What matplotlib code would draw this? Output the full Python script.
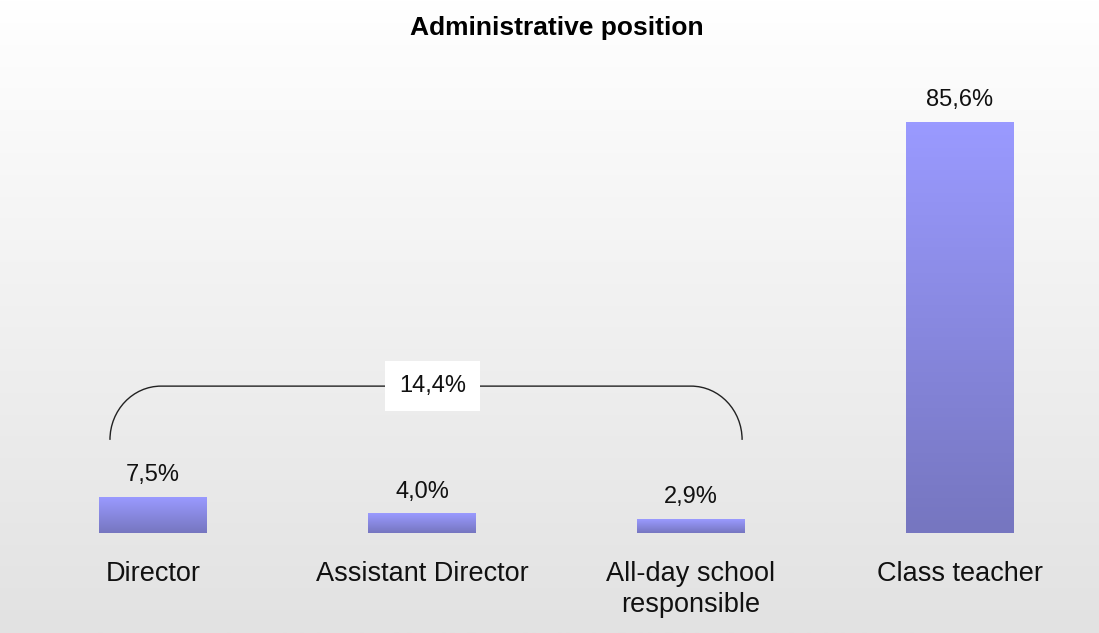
import numpy as np
import matplotlib.pyplot as plt
from matplotlib.colors import LinearSegmentedColormap
from matplotlib.path import Path
from matplotlib.patches import PathPatch

plt.rcParams["font.family"] = ["Liberation Sans", "DejaVu Sans"]

categories = ["Director", "Assistant Director", "All-day school\nresponsible", "Class teacher"]
shares = [7.5, 4.0, 2.9, 85.6]
grouped = [0, 1, 2]  # administrative roles summed under the bracket


def pct(v):
    return f"{v:.1f}%".replace(".", ",")


fig = plt.figure(figsize=(10.99, 6.33), dpi=100)

# page background: white fading to light grey
bg = fig.add_axes([0, 0, 1, 1], zorder=-1)
bg_cmap = LinearSegmentedColormap.from_list("bg", ["#ffffff", "#e2e2e2"])
bg.imshow(np.linspace(0, 1, 256).reshape(-1, 1), cmap=bg_cmap, aspect="auto",
          extent=[0, 1, 0, 1], origin="upper")
bg.axis("off")

ax = fig.add_axes([18.5 / 1099, 100 / 633, 1076 / 1099, 432 / 633])
ax.set_facecolor("none")

bar_cmap = LinearSegmentedColormap.from_list("bar", ["#7676c0", "#9a9aff"])
grad = np.linspace(0, 1, 128).reshape(-1, 1)
width = 0.4
for i, v in enumerate(shares):
    ax.imshow(grad, cmap=bar_cmap, aspect="auto", origin="lower",
              extent=[i - width / 2, i + width / 2, 0, v], zorder=2)
    ax.annotate(pct(v), (i, v), xytext=(0, 8), textcoords="offset points",
                ha="center", va="bottom", fontsize=17, color="#111111")

ax.set_xlim(-0.5, 3.5)
ax.set_ylim(0, 90)
ax.set_xticks(range(len(categories)))
ax.set_xticklabels(categories, fontsize=19.5, color="#111111", linespacing=1.25)
ax.tick_params(axis="x", length=0, pad=20)
ax.set_yticks([])
for s in ax.spines.values():
    s.set_visible(False)

# rounded bracket over the administrative roles
x0, x1 = -0.16, 2.19
y0, y1 = 19.4, 30.6
rx = 0.19
k = 0.5523
verts = [
    (x0, y0),
    (x0, y0 + k * (y1 - y0)), (x0 + rx * (1 - k), y1), (x0 + rx, y1),
    (x1 - rx, y1),
    (x1 - rx * (1 - k), y1), (x1, y0 + k * (y1 - y0)), (x1, y0),
]
codes = [Path.MOVETO, Path.CURVE4, Path.CURVE4, Path.CURVE4, Path.LINETO,
         Path.CURVE4, Path.CURVE4, Path.CURVE4]
ax.add_patch(PathPatch(Path(verts, codes), facecolor="none", edgecolor="#222222",
                       lw=1.0, zorder=3))

total = sum(shares[i] for i in grouped)
ax.text(1.04, y1, pct(total), ha="center", va="center", fontsize=17, color="#111111",
        zorder=4, bbox=dict(boxstyle="square,pad=0.6", fc="white", ec="none"))

fig.text(557 / 1099, 1 - 28 / 633, "Administrative position", ha="center", va="center",
         fontsize=19, fontweight="bold")

fig.savefig("out.png", dpi=100)
